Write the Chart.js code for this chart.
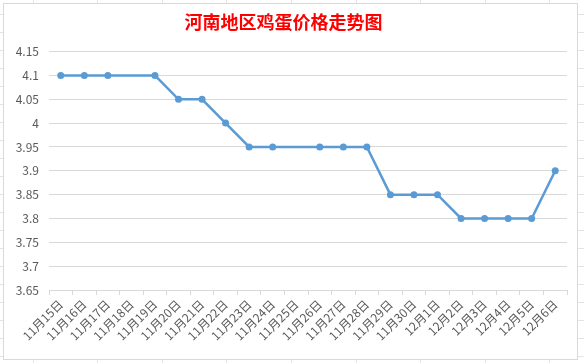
<!DOCTYPE html>
<html>
<head>
<meta charset="utf-8">
<script src="https://cdn.jsdelivr.net/npm/chart.js@4"></script>
<style>
  html, body { margin: 0; padding: 0; }
  body {
    width: 584px; height: 363px; overflow: hidden;
    background-color: #fff;
    background-image:
      repeating-linear-gradient(to right, transparent 0, transparent 33px, #e3e3e3 33px, #e3e3e3 34px, transparent 34px, transparent 64.5px),
      repeating-linear-gradient(to bottom, transparent 0, transparent 14px, #e3e3e3 14px, #e3e3e3 15px, transparent 15px, transparent 18px);
  }
  #wrap { position: absolute; left: 0; top: 0; width: 584px; height: 363px; }
</style>
</head>
<body>
<div id="wrap"><canvas id="chart" width="584" height="363"></canvas></div>
<script>
// 河南地区鸡蛋价格 (元/斤)
const dates = ['11月15日','11月16日','11月17日','11月18日','11月19日','11月20日','11月21日','11月22日',
  '11月23日','11月24日','11月25日','11月26日','11月27日','11月28日','11月29日','11月30日',
  '12月1日','12月2日','12月3日','12月4日','12月5日','12月6日'];
const prices = [4.1, 4.1, 4.1, null, 4.1, 4.05, 4.05, 4.0,
  3.95, 3.95, null, 3.95, 3.95, 3.95, 3.85, 3.85,
  3.85, 3.8, 3.8, 3.8, 3.8, 3.9];
const yMin = 3.65, yMax = 4.15, yStep = 0.05;

const frame = {
  id: 'frame',
  beforeDraw(chart) {
    const c = chart.ctx;
    c.save();
    c.fillStyle = '#fff';
    c.fillRect(3, 3, 575, 357);
    c.strokeStyle = '#d9d9d9';
    c.lineWidth = 1;
    c.strokeRect(3.5, 3.5, 574, 356);
    c.restore();
  }
};

const ctx = document.getElementById('chart');
new Chart(ctx, {
  type: 'line',
  data: {
    labels: dates,
    datasets: [{
      label: '价格',
      data: prices,
      borderColor: '#5b9bd5',
      backgroundColor: '#5b9bd5',
      borderWidth: 2.5,
      pointRadius: 3.5,
      pointBackgroundColor: '#5b9bd5',
      pointBorderWidth: 0,
      tension: 0,
      spanGaps: true
    }]
  },
  options: {
    responsive: false,
    animation: false,
    devicePixelRatio: 1,
    layout: { padding: { left: 0, right: 17, top: 0, bottom: 0 } },
    plugins: {
      legend: { display: false },
      tooltip: { enabled: false },
      title: {
        display: true,
        text: '河南地区鸡蛋价格走势图',
        color: '#ff0000',
        font: { family: '"Noto Sans CJK SC"', size: 18, weight: 'bold' },
        padding: { top: 11, bottom: 19 }
      }
    },
    scales: {
      x: {
        offset: true,
        grid: { display: true, drawOnChartArea: false, offset: true, color: '#d9d9d9', tickLength: 5 },
        border: { display: true, color: '#d9d9d9' },
        ticks: {
          autoSkip: false,
          maxRotation: 45, minRotation: 45,
          color: '#595959',
          padding: 2,
          font: { family: '"Noto Sans CJK SC"', size: 12 }
        },
        afterFit(scale) { scale.height = 73; }
      },
      y: {
        min: yMin, max: yMax,
        grid: { color: '#d9d9d9', drawTicks: false },
        border: { display: false },
        ticks: {
          stepSize: yStep,
          color: '#595959',
          padding: 10,
          font: { family: '"Noto Sans CJK SC"', size: 12 },
          callback: v => String(Math.round(v * 100) / 100)
        },
        afterFit(scale) { scale.width = 49; }
      }
    }
  },
  plugins: [frame]
});
</script>
</body>
</html>
